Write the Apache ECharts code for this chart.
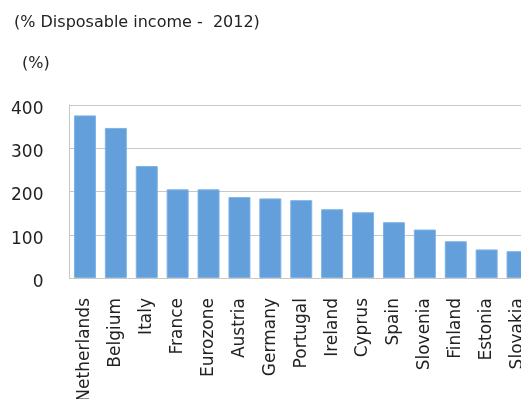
<!DOCTYPE html>
<html>
<head>
<meta charset="utf-8">
<style>html,body{margin:0;padding:0;background:#fff}#c{width:521px;height:399px}</style>
<script src="https://cdn.jsdelivr.net/npm/echarts@6/dist/echarts.min.js"></script>
</head>
<body>
<div id="c"></div>
<script>
var categories = ["Netherlands","Belgium","Italy","France","Eurozone","Austria","Germany","Portugal","Ireland","Cyprus","Spain","Slovenia","Finland","Estonia","Slovakia"];
var values = [376, 347, 259, 205, 205, 187, 184, 180, 159, 152, 129, 112, 85, 66, 62];
var yTicks = [0, 100, 200, 300, 400];

var chart = echarts.init(document.getElementById('c'), null, {renderer: 'canvas'});
chart.setOption({
  animation: false,
  backgroundColor: '#fff',
  textStyle: {fontFamily: 'DejaVu Sans'},
  title: [
    {text: '(% Disposable income -  2012)', left: 9, top: 10,
     textStyle: {fontFamily: 'DejaVu Sans', fontSize: 16, fontWeight: 'normal', color: '#222'}},
    {text: '(%)', left: 17, top: 51,
     textStyle: {fontFamily: 'DejaVu Sans', fontSize: 16, fontWeight: 'normal', color: '#222'}}
  ],
  grid: {left: 69.5, top: 105, width: 463.5, height: 173, containLabel: false, outerBoundsMode: 'none'},
  xAxis: {
    type: 'category',
    data: categories,
    axisLine: {show: true, lineStyle: {color: '#c8c8c8', width: 1}},
    axisTick: {show: false},
    axisLabel: {rotate: 90, interval: 0, margin: 20, fontSize: 17, color: '#222', fontFamily: 'DejaVu Sans'}
  },
  yAxis: {
    type: 'value',
    min: yTicks[0], max: yTicks[yTicks.length - 1], interval: 100,
    axisLine: {show: true, lineStyle: {color: '#c8c8c8', width: 1}},
    axisTick: {show: false},
    splitLine: {show: true, lineStyle: {color: '#c8c8c8', width: 1}},
    axisLabel: {margin: 26, fontSize: 17, color: '#222', fontFamily: 'DejaVu Sans', verticalAlign: 'top', padding: [-4, 0, 0, 0]}
  },
  series: [{
    type: 'bar',
    data: values,
    barWidth: 22,
    itemStyle: {color: '#629fdb', borderColor: '#7fb2e5', borderWidth: 1}
  }]
});
</script>
</body>
</html>
